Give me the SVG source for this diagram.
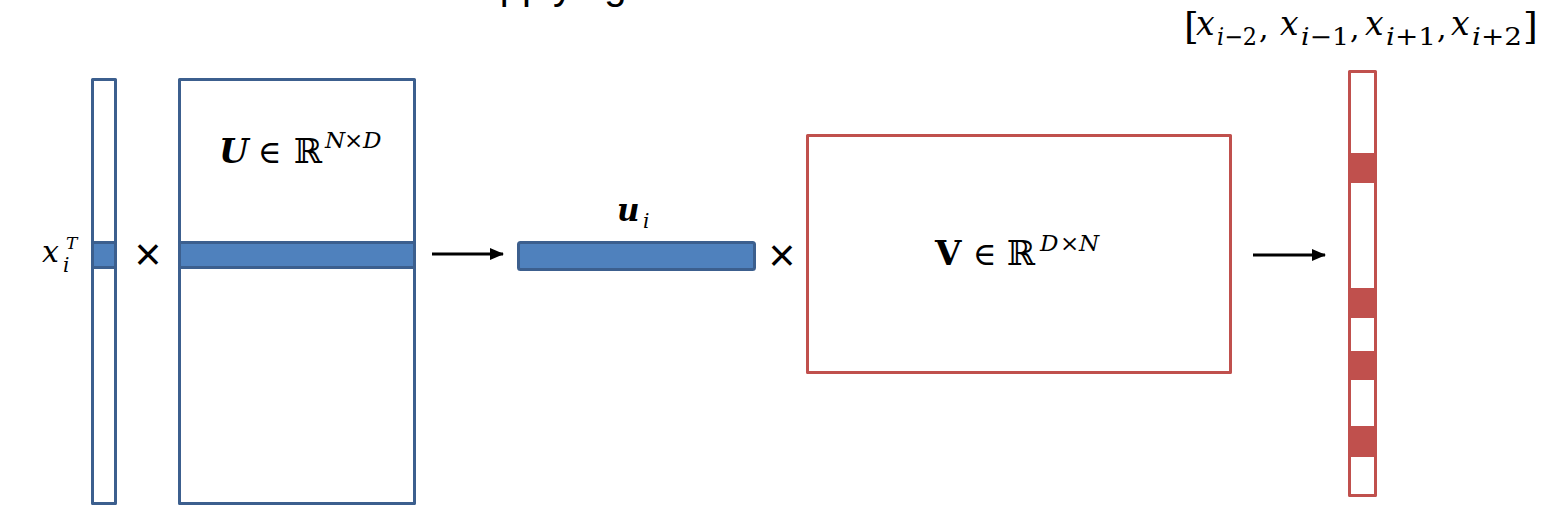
<svg xmlns="http://www.w3.org/2000/svg" width="1541" height="513" viewBox="0 0 1541 513">
<style>
.bg{fill:#ffffff}
.bbox{fill:#ffffff;stroke:#3C5F8E;stroke-width:3;stroke-linejoin:round}
.bfill{fill:#4F81BD;stroke:#3C5F8E;stroke-width:3;stroke-linejoin:round}
.rbox{fill:#ffffff;stroke:#C0504D;stroke-width:3;stroke-linejoin:round}
.rfill{fill:#C0504D}
.m{font-family:"DejaVu Serif","Liberation Serif",serif;fill:#000}
.it{font-style:italic}
.bd{font-weight:bold}
.op{font-family:"Liberation Sans",Arial,sans-serif;fill:#000}
.conn{stroke:#000;stroke-width:3;fill:none}
.title{font-family:"Liberation Sans",Arial,sans-serif;font-size:40px;fill:#000}
</style>
<defs>
<marker id="ah" markerWidth="14" markerHeight="12" refX="13" refY="6" orient="auto" markerUnits="userSpaceOnUse">
<path d="M0,0 L14,6 L0,12 Z" fill="#000"/>
</marker>
</defs>
<rect class="bg" x="0" y="0" width="1541" height="513"/>
<text class="title" x="473" y="-1">Applying</text>

<g id="xi-vector">
<rect class="bbox" x="92.5" y="79.5" width="23" height="424"/>
<rect class="bfill" x="92.5" y="242.5" width="23" height="25"/>
<text class="m it" x="42" y="262" font-size="30">x</text>
<text class="m it" x="66" y="249" font-size="17">T</text>
<text class="m it" x="63" y="272" font-size="20">i</text>
</g>

<g id="times1"><text class="op" x="148" y="270" font-size="46" text-anchor="middle">×</text></g>

<g id="U-matrix">
<rect class="bbox" x="179.5" y="79.5" width="235" height="424"/>
<rect class="bfill" x="179.5" y="242.5" width="235" height="25"/>
<text class="m it bd" x="219" y="163" font-size="34">U</text>
<text class="m" x="258" y="163" font-size="32">∈</text>
<text class="m" x="294" y="163" font-size="34">ℝ</text>
<text class="m it" x="325" y="148" font-size="23">N</text>
<text class="m" x="344" y="148" font-size="23">×</text>
<text class="m it" x="363" y="148" font-size="23">D</text>
</g>

<g id="ui-vector">
<rect class="bfill" x="518.5" y="242.5" width="236" height="27" rx="2"/>
<text class="m it bd" x="617" y="221" font-size="31">u</text>
<text class="m it" x="643" y="228" font-size="20">i</text>
</g>

<g id="times2"><text class="op" x="782" y="271" font-size="46" text-anchor="middle">×</text></g>

<g id="V-matrix">
<rect class="rbox" x="807.5" y="135.5" width="423" height="237"/>
<text class="m bd" x="935" y="265" font-size="34">V</text>
<text class="m" x="973" y="265" font-size="32">∈</text>
<text class="m" x="1007" y="265" font-size="34">ℝ</text>
<text class="m it" x="1040" y="251" font-size="23">D</text>
<text class="m" x="1060" y="251" font-size="23">×</text>
<text class="m it" x="1079" y="251" font-size="23">N</text>
</g>

<g id="context-vector">
<rect class="rbox" x="1349.5" y="71.5" width="26" height="424"/>
<rect class="rfill" x="1348" y="153" width="29" height="30"/>
<rect class="rfill" x="1348" y="288" width="29" height="30"/>
<rect class="rfill" x="1348" y="351" width="29" height="29"/>
<rect class="rfill" x="1348" y="426" width="29" height="31"/>
<g class="m">
<text x="1184" y="39" font-size="38">[</text>
<text class="it" x="1196" y="35" font-size="33">x</text>
<text x="1217" y="45" font-size="24" textLength="40" lengthAdjust="spacingAndGlyphs"><tspan class="it">i</tspan>−2</text>
<text x="1259" y="38" font-size="30">,</text>
<text class="it" x="1280" y="35" font-size="33">x</text>
<text x="1301" y="45" font-size="24" textLength="48" lengthAdjust="spacingAndGlyphs"><tspan class="it">i</tspan>−1</text>
<text x="1350" y="38" font-size="30">,</text>
<text class="it" x="1365" y="35" font-size="33">x</text>
<text x="1386" y="45" font-size="24" textLength="50" lengthAdjust="spacingAndGlyphs"><tspan class="it">i</tspan>+1</text>
<text x="1437" y="38" font-size="30">,</text>
<text class="it" x="1451" y="35" font-size="33">x</text>
<text x="1472" y="45" font-size="24" textLength="50" lengthAdjust="spacingAndGlyphs"><tspan class="it">i</tspan>+2</text>
<text x="1523" y="39" font-size="38">]</text>
</g>
</g>

<g id="connectors">
<line class="conn" x1="432" y1="254" x2="503" y2="254" marker-end="url(#ah)"/>
<line class="conn" x1="1253" y1="255" x2="1325" y2="255" marker-end="url(#ah)"/>
</g>
</svg>
